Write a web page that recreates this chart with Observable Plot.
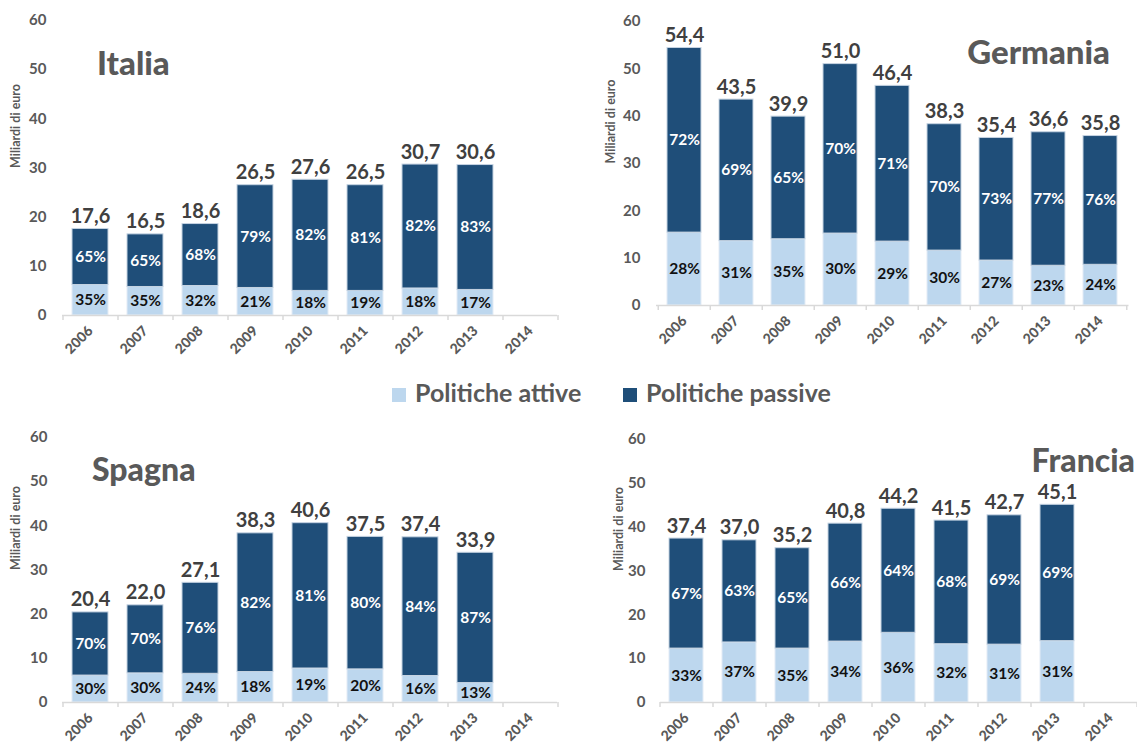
<!DOCTYPE html>
<html><head><meta charset="utf-8">
<script src="https://cdn.jsdelivr.net/npm/d3@7"></script>
<script src="https://cdn.jsdelivr.net/npm/@observablehq/plot@0.6"></script>
<style>
body{margin:0;background:#fff;width:1137px;height:745px;overflow:hidden;position:relative;font-family:Lato,"Open Sans",sans-serif;}
.panel{position:absolute;}
#overlay{position:absolute;left:0;top:0;pointer-events:none;}
</style></head><body>
<div id="p-it" class="panel" style="left:0;top:0"></div>
<div id="p-de" class="panel" style="left:580px;top:0"></div>
<div id="p-es" class="panel" style="left:0;top:417px"></div>
<div id="p-fr" class="panel" style="left:580px;top:419px"></div>
<svg id="overlay" width="1137" height="745" font-family="Lato, 'Open Sans', sans-serif" font-weight="900" fill="#595959">
  <text x="97" y="75" font-size="33">Italia</text>
  <text x="1110" y="64" font-size="33" text-anchor="end">Germania</text>
  <text x="92" y="481" font-size="32">Spagna</text>
  <text x="1135" y="472" font-size="32" text-anchor="end">Francia</text>
  <rect x="392" y="388" width="14" height="14" fill="#BDD7EE"></rect>
  <text x="415" y="402" font-size="25" font-weight="bold">Politiche attive</text>
  <rect x="623" y="388" width="14" height="14" fill="#1F4E79"></rect>
  <text x="646" y="402" font-size="25" font-weight="bold">Politiche passive</text>
</svg>
<script>
const years = ["2006","2007","2008","2009","2010","2011","2012","2013","2014"];
const seriesNames = ["Politiche attive","Politiche passive"];
const yTicks = [0,10,20,30,40,50,60];

const italiaTotals = [17.6,16.5,18.6,26.5,27.6,26.5,30.7,30.6,null];
const italiaActive = [6.2,5.8,6.0,5.6,5.0,5.0,5.5,5.2,null];
const italiaPctActive = [35,35,32,21,18,19,18,17,null];
const italiaPctPassive = [65,65,68,79,82,81,82,83,null];

const germaniaTotals = [54.4,43.5,39.9,51.0,46.4,38.3,35.4,36.6,35.8];
const germaniaActive = [15.4,13.6,14.0,15.2,13.5,11.6,9.5,8.4,8.6];
const germaniaPctActive = [28,31,35,30,29,30,27,23,24];
const germaniaPctPassive = [72,69,65,70,71,70,73,77,76];

const spagnaTotals = [20.4,22.0,27.1,38.3,40.6,37.5,37.4,33.9,null];
const spagnaActive = [6.1,6.6,6.5,6.9,7.7,7.5,6.0,4.4,null];
const spagnaPctActive = [30,30,24,18,19,20,16,13,null];
const spagnaPctPassive = [70,70,76,82,81,80,84,87,null];

const franciaTotals = [37.4,37.0,35.2,40.8,44.2,41.5,42.7,45.1,null];
const franciaActive = [12.3,13.7,12.3,13.9,15.9,13.3,13.2,14.0,null];
const franciaPctActive = [33,37,35,34,36,32,31,31,null];
const franciaPctPassive = [67,63,65,66,64,68,69,69,null];

const LIGHT = "#BDD7EE", DARK = "#1F4E79";
const fmt = v => v.toFixed(1).replace(".", ",");

function panel(el, totals, active, pctA, pctP, o) {
  const rows = [];
  years.forEach((yr, i) => {
    if (totals[i] == null) return;
    rows.push({year: yr, series: seriesNames[0], y1: 0, y2: active[i], pct: pctA[i]});
    rows.push({year: yr, series: seriesNames[1], y1: active[i], y2: totals[i], pct: pctP[i]});
  });
  const tots = years.map((yr, i) => ({year: yr, total: totals[i]})).filter(d => d.total != null);
  const step = (o.width - o.marginLeft - o.marginRight) / years.length;
  const ppu = (o.height - o.marginTop - o.marginBottom) / 60;
  const chart = Plot.plot({
    width: o.width, height: o.height,
    marginLeft: o.marginLeft, marginRight: o.marginRight, marginTop: o.marginTop, marginBottom: o.marginBottom,
    style: {fontFamily: "Lato, 'Open Sans', sans-serif", fontWeight: "bold", color: "#595959", overflow: "visible", background: "transparent"},
    x: {domain: years, paddingInner: 0.35, paddingOuter: 0.175, label: null},
    y: {domain: [0, 60], label: null},
    marks: [
      Plot.barY(rows.filter(d => d.series === seriesNames[0]), {x: "year", y1: "y1", y2: "y2", fill: LIGHT, stroke: "#e3ecf6", strokeWidth: 1}),
      Plot.barY(rows.filter(d => d.series === seriesNames[1]), {x: "year", y1: "y1", y2: "y2", fill: DARK, stroke: "#c5d3e2", strokeWidth: 1}),
      Plot.ruleY([0], {stroke: "#d9d9d9", strokeWidth: 1.5}),
      Plot.ruleX(years, {x: d => d, dx: -step / 2, y1: 0, y2: -5 / ppu, stroke: "#d9d9d9", strokeWidth: 1.5}),
      Plot.ruleX([years[years.length - 1]], {x: d => d, dx: step / 2, y1: 0, y2: -5 / ppu, stroke: "#d9d9d9", strokeWidth: 1.5}),
      Plot.axisY({ticks: yTicks, tickSize: 0, tickPadding: o.tickPadding, fontSize: 15, label: null}),
      Plot.axisX({tickSize: 0, tickPadding: 13, tickRotate: -45, fontSize: 14, fontWeight: 900, label: null}),
      Plot.text(["Miliardi di euro"], {frameAnchor: "left", dx: o.labelDx, rotate: -90, fontSize: 12.5, fill: "#595959"}),
      Plot.text(rows.filter(d => d.series === seriesNames[0]), {x: "year", y: d => (d.y1 + d.y2) / 2, text: d => d.pct + "%", fill: "#111", fontSize: 15.5}),
      Plot.text(rows.filter(d => d.series === seriesNames[1]), {x: "year", y: d => (d.y1 + d.y2) / 2, text: d => d.pct + "%", fill: "#fff", fontSize: 15.5}),
      Plot.text(tots, {x: "year", y: "total", text: d => fmt(d.total), lineAnchor: "bottom", dy: -6, fontSize: 20, fill: "#404040"})
    ]
  });
  document.getElementById(el).appendChild(chart);
}

panel("p-it", italiaTotals, italiaActive, italiaPctActive, italiaPctPassive,
  {width: 565, height: 370, marginLeft: 62, marginRight: 8, marginTop: 20, marginBottom: 55, tickPadding: 16, labelDx: -47});
panel("p-de", germaniaTotals, germaniaActive, germaniaPctActive, germaniaPctPassive,
  {width: 557, height: 360, marginLeft: 76, marginRight: 8.5, marginTop: 21, marginBottom: 55, tickPadding: 16, labelDx: -46});
panel("p-es", spagnaTotals, spagnaActive, spagnaPctActive, spagnaPctPassive,
  {width: 565, height: 340, marginLeft: 62, marginRight: 8, marginTop: 20, marginBottom: 55, tickPadding: 15, labelDx: -47});
panel("p-fr", franciaTotals, franciaActive, franciaPctActive, franciaPctPassive,
  {width: 557, height: 338, marginLeft: 80, marginRight: 0, marginTop: 20, marginBottom: 55, tickPadding: 15, labelDx: -42});
</script>
</body></html>
